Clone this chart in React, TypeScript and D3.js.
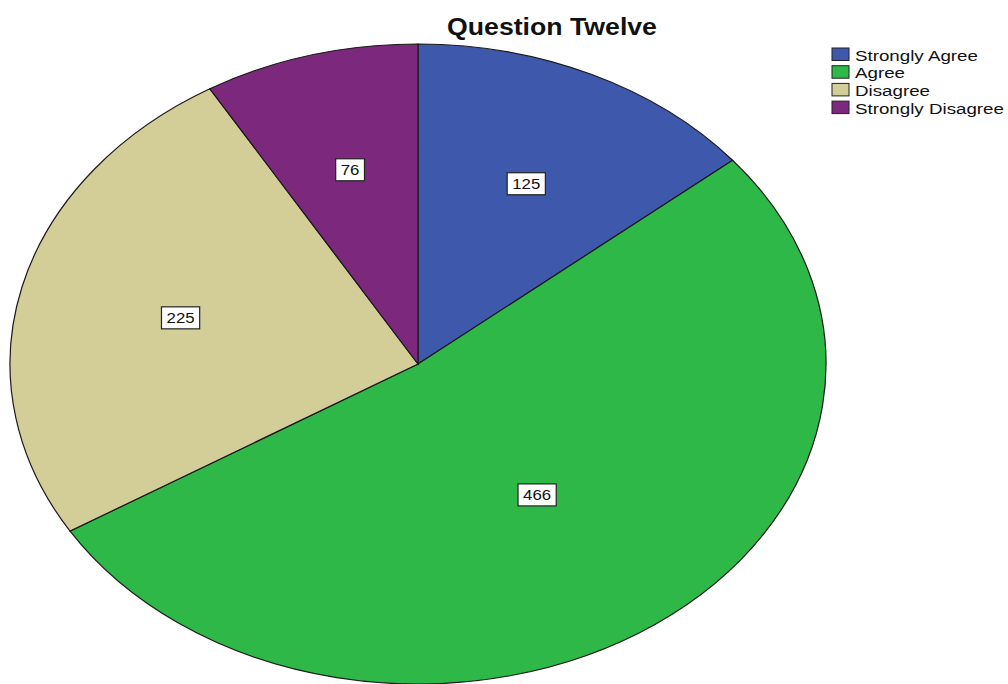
import React from "react";
import * as d3 from "d3";

const categories = ["Strongly Agree", "Agree", "Disagree", "Strongly Disagree"];
const values = [125, 466, 225, 76];
const colors = ["#3E58AC", "#2EB848", "#D3CE97", "#7C287D"];
const title = "Question Twelve";

const W = 1008;
const H = 684;
const cx = 418;
const cy = 364;
const rx = 408;
const ry = 320;
const sx = 1.2;

export default function App() {
  const pie = d3.pie<number>().sort(null).value((d) => d)(values);
  const arc = d3.arc<d3.PieArcDatum<number>>().innerRadius(0).outerRadius(ry);
  const fontFamily = "Liberation Sans, Arial, sans-serif";

  return (
    <div style={{ position: "absolute", left: 0, top: 0 }}>
      <svg width={W} height={H} style={{ display: "block", background: "#fff" }}>
        <g transform={`translate(${cx},${cy}) scale(${rx / ry},1)`}>
          {pie.map((p, i) => (
            <path
              key={i}
              d={arc(p) || ""}
              fill={colors[i]}
              stroke="#1a1a1a"
              strokeWidth={1.2}
              vectorEffect="non-scaling-stroke"
            />
          ))}
        </g>
        {pie.map((p, i) => {
          const h = (p.endAngle - p.startAngle) / 2;
          const mid = (p.startAngle + p.endAngle) / 2;
          const centroidD = ((2 / 3) * Math.sin(h)) / h;
          const d = (centroidD + 0.6) / 2;
          const x = cx + rx * d * Math.sin(mid);
          const y = cy - ry * d * Math.cos(mid);
          const txt = String(values[i]);
          const bw = txt.length * 9.4 + 10;
          const bh = 22;
          return (
            <g key={i} transform={`translate(${x},${y})`}>
              <rect x={-bw / 2} y={-bh / 2} width={bw} height={bh} fill="#fff" stroke="#222" strokeWidth={1.2} />
              <text
                transform={`scale(${sx},1)`}
                textAnchor="middle"
                y={5}
                fontSize={14}
                fontFamily={fontFamily}
                fill="#111"
              >
                {txt}
              </text>
            </g>
          );
        })}
        <text
          transform={`translate(552,35) scale(1.16,1)`}
          textAnchor="middle"
          fontSize={23}
          fontWeight="bold"
          fontFamily={fontFamily}
          fill="#111"
        >
          {title}
        </text>
        {categories.map((c, i) => {
          const y0 = 48 + i * 17.7;
          return (
            <g key={c}>
              <rect x={832} y={y0} width={17} height={12.5} fill={colors[i]} stroke="#222" strokeWidth={1} />
              <text
                transform={`translate(855,${y0 + 12.5}) scale(1.25,1)`}
                fontSize={15}
                fontFamily={fontFamily}
                fill="#111"
              >
                {c}
              </text>
            </g>
          );
        })}
      </svg>
    </div>
  );
}
